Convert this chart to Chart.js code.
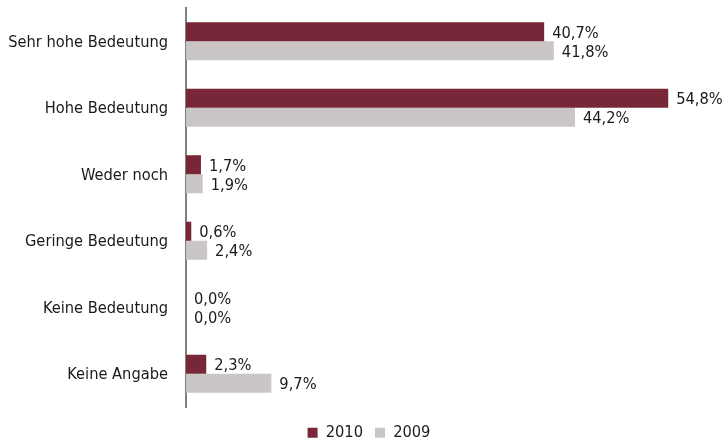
<!DOCTYPE html>
<html>
<head>
<meta charset="utf-8">
<script src="https://cdn.jsdelivr.net/npm/chart.js@4/dist/chart.umd.min.js"></script>
<style>
  html, body { margin: 0; padding: 0; background: #ffffff; }
  #wrap { width: 726px; height: 441px; }
</style>
</head>
<body>
<div id="wrap"><canvas id="c" width="726" height="441"></canvas></div>
<script>
const categories = [
  'Sehr hohe Bedeutung',
  'Hohe Bedeutung',
  'Weder noch',
  'Geringe Bedeutung',
  'Keine Bedeutung',
  'Keine Angabe'
];
const values2010 = [40.7, 54.8, 1.7, 0.6, 0.0, 2.3];
const values2009 = [41.8, 44.2, 1.9, 2.4, 0.0, 9.7];
const seriesNames = ['2010', '2009'];

const FONT = "'Liberation Sans Narrow', 'DejaVu Sans Condensed', 'Roboto Condensed', sans-serif";
const FONT_SIZE = 16.3;
const TEXT = '#1a1a1a';

// Prints the percentage next to the end of every bar
const valueLabels = {
  id: 'valueLabels',
  afterDatasetsDraw(chart) {
    const ctx = chart.ctx;
    ctx.save();
    ctx.font = FONT_SIZE + 'px ' + FONT;
    ctx.fillStyle = TEXT;
    ctx.textAlign = 'left';
    ctx.textBaseline = 'middle';
    chart.data.datasets.forEach((ds, di) => {
      const meta = chart.getDatasetMeta(di);
      meta.data.forEach((bar, i) => {
        const v = ds.data[i];
        const txt = v.toFixed(1).replace('.', ',') + '%';
        ctx.fillText(txt, bar.x + 8, bar.y + 2);
      });
    });
    ctx.restore();
  }
};

// Keeps the legend compact and nudges it slightly right
const legendTweak = {
  id: 'legendTweak',
  afterInit(chart) {
    const lg = chart.legend;
    const fit = lg.fit;
    lg.fit = function () {
      fit.call(this);
      this.height = 30;
    };
    const draw = lg.draw;
    lg.draw = function () {
      const ctx = this.ctx;
      ctx.save();
      ctx.translate(12, 1.5);
      draw.call(this);
      ctx.restore();
    };
  }
};

new Chart(document.getElementById('c'), {
  type: 'bar',
  data: {
    labels: categories,
    datasets: [
      {
        label: seriesNames[0],
        data: values2010,
        backgroundColor: '#782739',
        borderWidth: 0,
        barPercentage: 1.0,
        categoryPercentage: 0.572
      },
      {
        label: seriesNames[1],
        data: values2009,
        backgroundColor: '#cbc6c6',
        borderWidth: 0,
        barPercentage: 1.0,
        categoryPercentage: 0.572
      }
    ]
  },
  options: {
    indexAxis: 'y',
    responsive: false,
    animation: false,
    devicePixelRatio: 1,
    layout: { padding: { top: 8, right: 12, left: 0, bottom: 0 } },
    scales: {
      x: {
        min: 0,
        max: 60,
        display: true,
        grid: { display: false, drawTicks: false },
        border: { display: false },
        ticks: { display: false },
        afterFit(scale) { scale.height = 4; }
      },
      y: {
        grid: { display: false, drawTicks: false },
        border: { display: true, color: '#7f7f7f', width: 2 },
        ticks: {
          color: TEXT,
          padding: 18,
          labelOffset: 1.5,
          font: { family: FONT, size: FONT_SIZE }
        },
        afterFit(scale) {
          scale.width = 186;
          scale.paddingTop = 0;
          scale.paddingBottom = 0;
        }
      }
    },
    plugins: {
      legend: {
        position: 'bottom',
        labels: {
          color: TEXT,
          boxWidth: 10,
          boxHeight: 10,
          padding: 12,
          font: { family: FONT, size: FONT_SIZE }
        }
      },
      tooltip: { enabled: false }
    }
  },
  plugins: [valueLabels, legendTweak]
});
</script>
</body>
</html>
